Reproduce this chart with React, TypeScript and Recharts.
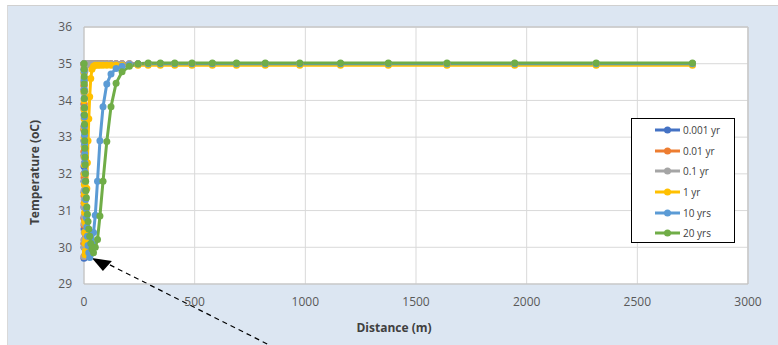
import React from "react";
import {
  LineChart,
  Line,
  XAxis,
  YAxis,
  CartesianGrid,
  Legend,
  ReferenceLine,
} from "recharts";

const seriesNames = ["0.001 yr", "0.01 yr", "0.1 yr", "1 yr", "10 yrs", "20 yrs"];
const seriesColors = ["#4472C4", "#ED7D31", "#A5A5A5", "#FFC000", "#5B9BD5", "#70AD47"];
const plateaus = [35, 35, 35, 34.96, 35, 35.02];

const xTicks = [0, 500, 1000, 1500, 2000, 2500, 3000];
const yTicks = [29, 30, 31, 32, 33, 34, 35, 36];

// shared outer nodes (m), used past the end of each series' dip
const farDistances = [
  0.8, 0.95, 1.1, 1.35, 1.6, 1.9, 2.3, 2.7, 3.2, 3.8, 4.5, 5.4, 6.4, 7.6, 9.1, 10.8,
  12.8, 15.3, 18.2, 21.6, 25.7, 30.5, 36, 43, 51, 61, 72, 86, 103, 122, 145, 172, 205,
  244, 290, 345, 410, 488, 580, 689, 819, 975, 1159, 1375, 1640, 1946, 2314, 2749,
];

const dist0001 = [0, 0.001, 0.002, 0.003, 0.004, 0.005, 0.006, 0.008, 0.01, 0.012, 0.015, 0.02, 0.025, 0.03, 0.04, 0.05, 0.06, 0.08, 0.1];
const temp0001 = [35.0, 34.3, 33.6, 32.9, 32.2, 31.5, 30.8, 30.1, 29.7, 30.0, 30.5, 31.1, 31.8, 32.5, 33.2, 33.9, 34.5, 34.85, 35.0];

const dist001 = [0, 0.005, 0.01, 0.015, 0.02, 0.03, 0.04, 0.05, 0.06, 0.08, 0.1, 0.12, 0.15, 0.2, 0.25, 0.3, 0.4, 0.5, 0.6, 0.8, 0.95, 1.1];
const temp001 = [35.0, 34.4, 33.8, 33.2, 32.6, 32.0, 31.4, 30.8, 30.2, 29.75, 30.1, 30.6, 31.2, 31.9, 32.6, 33.3, 33.9, 34.4, 34.75, 34.92, 34.98, 35.0];

const dist01 = [0, 0.02, 0.04, 0.06, 0.08, 0.1, 0.12, 0.15, 0.2, 0.25, 0.3, 0.4, 0.5, 0.6, 0.8, 0.95, 1.1, 1.35, 1.6, 1.9, 2.3, 2.7, 3.2, 3.8, 4.5, 5.4, 6.4, 7.6, 9.1];
const temp01 = [35.0, 34.6, 34.2, 33.75, 33.3, 32.9, 32.45, 32.0, 31.55, 31.1, 30.65, 30.2, 29.75, 30.0, 30.4, 30.85, 31.3, 31.8, 32.3, 32.8, 33.3, 33.8, 34.25, 34.6, 34.8, 34.92, 34.97, 34.99, 35.0];

const dist1 = [0, 0.1, 0.15, 0.2, 0.25, 0.3, 0.4, 0.5, 0.6, 0.8, 0.95, 1.1, 1.35, 1.6, 1.9, 2.3, 2.7, 3.2, 3.8, 4.5, 5.4, 6.4, 7.6, 9.1, 10.8, 12.8, 15.3, 18.2, 21.6, 25.7, 30.5, 36, 43, 51, 61];
const temp1 = [35.0, 34.75, 34.5, 34.25, 34.0, 33.75, 33.5, 33.25, 33.0, 32.75, 32.5, 32.25, 32.0, 31.7, 31.45, 31.2, 30.95, 30.7, 30.4, 30.1, 29.8, 29.9, 30.2, 30.6, 31.05, 31.6, 32.3, 32.9, 33.5, 34.1, 34.6, 34.85, 34.93, 34.96, 34.96];

const dist10 = [0, 0.5, 0.8, 0.95, 1.1, 1.35, 1.6, 1.9, 2.3, 2.7, 3.2, 3.8, 4.5, 5.4, 6.4, 7.6, 9.1, 10.8, 12.8, 15.3, 18.2, 21.6, 25.7, 30.5, 36, 43, 51, 61, 72, 86, 103, 122, 145, 172, 205, 244];
const temp10 = [35.0, 34.8, 34.55, 34.3, 34.05, 33.8, 33.55, 33.3, 33.05, 32.8, 32.55, 32.3, 32.05, 31.8, 31.55, 31.3, 31.05, 30.8, 30.55, 30.3, 30.05, 29.85, 29.72, 29.85, 30.1, 30.4, 30.87, 31.8, 32.9, 33.83, 34.45, 34.72, 34.87, 34.93, 34.97, 34.99];

const dist20 = [0, 0.5, 0.8, 0.95, 1.1, 1.35, 1.6, 1.9, 2.3, 2.7, 3.2, 3.8, 4.5, 5.4, 6.4, 7.6, 9.1, 10.8, 12.8, 15.3, 18.2, 21.6, 25.7, 30.5, 36, 43, 51, 61, 72, 86, 103, 122, 145, 172, 205, 244];
const temp20 = [35.0, 34.85, 34.65, 34.45, 34.25, 34.05, 33.8, 33.6, 33.35, 33.15, 32.9, 32.7, 32.45, 32.25, 32.0, 31.8, 31.55, 31.35, 31.1, 30.9, 30.7, 30.5, 30.3, 30.1, 29.95, 29.85, 30.0, 30.21, 30.85, 31.8, 32.88, 33.83, 34.47, 34.78, 34.93, 35.0];

// dashed arrow annotation (data units)
const arrowFrom = { x: 117, y: 29.52 };
const arrowTo = { x: 850, y: 27.3 };

const allDist = [dist0001, dist001, dist01, dist1, dist10, dist20];
const allTemp = [temp0001, temp001, temp01, temp1, temp10, temp20];

function buildSeries(dist: number[], temp: number[], plateau: number) {
  const head = dist.map((x, i) => ({ x, t: temp[i] }));
  const last = dist[dist.length - 1];
  const tail = farDistances.filter((d) => d > last).map((x) => ({ x, t: plateau }));
  return [...head, ...tail];
}

const seriesData = allDist.map((d, i) => buildSeries(d, allTemp[i], plateaus[i]));

const FONT = "'Open Sans', 'Noto Sans', sans-serif";

const ArrowShape = (p: any) => {
  const { x1, y1, x2, y2 } = p;
  return (
    <g>
      <line x1={x1} y1={y1} x2={x2} y2={y2} stroke="#000" strokeWidth={1.2} strokeDasharray="5 4" />
      <polygon
        points={`${x1 - 18},${y1 - 7} ${x1 + 2},${y1 - 4} ${x1 - 7},${y1 + 6}`}
        fill="#000"
      />
    </g>
  );
};

const renderLegend = () => (
  <div
    style={{
      width: 104,
      height: 125,
      boxSizing: "border-box",
      border: "1px solid #000",
      background: "#fff",
      paddingTop: 1,
    }}
  >
    {seriesNames.map((n, i) => (
      <div key={n} style={{ display: "flex", alignItems: "center", height: 20.6 }}>
        <svg width={50} height={10} style={{ display: "block" }}>
          <line x1={23} x2={48} y1={5} y2={5} stroke={seriesColors[i]} strokeWidth={3} />
          <circle cx={35.5} cy={5} r={3.5} fill={seriesColors[i]} />
        </svg>
        <span style={{ fontSize: 10, color: "#404040", fontFamily: FONT, marginLeft: 1 }}>{n}</span>
      </div>
    ))}
  </div>
);

export default function App() {
  return (
    <div
      style={{
        position: "absolute",
        left: 0,
        top: 0,
        width: 778,
        height: 345,
        background: "#fff",
        overflow: "hidden",
        fontFamily: FONT,
      }}
    >
      <div
        style={{
          position: "absolute",
          left: 7,
          top: 5,
          right: 0,
          bottom: 0,
          background: "#dce6f2",
          borderTop: "1px solid #d0d0d0",
          borderLeft: "1px solid #d9d9d9",
        }}
      />
      <div style={{ position: "absolute", left: 0, top: 0 }}>
        <LineChart width={778} height={345} margin={{ top: 27, right: 30, bottom: 0, left: 0 }}>
          <CartesianGrid stroke="#d9d9d9" fill="#ffffff" />
          <XAxis
            type="number"
            dataKey="x"
            domain={[0, 3000]}
            ticks={xTicks}
            height={61}
            tickLine={false}
            tickSize={6}
            tickMargin={7}
            axisLine={{ stroke: "#bfbfbf" }}
            tick={{ fill: "#595959", fontSize: 12, fontFamily: FONT }}
            label={(props: any) => {
              const vb = props.viewBox;
              return (
                <text
                  x={vb.x + vb.width / 2 - 22}
                  y={vb.y + 43}
                  textAnchor="middle"
                  dominantBaseline="central"
                  fontSize={12}
                  fontWeight="bold"
                  fill="#404040"
                  fontFamily={FONT}
                >
                  Distance (m)
                </text>
              );
            }}
          />
          <YAxis
            type="number"
            dataKey="t"
            domain={[29, 36]}
            ticks={yTicks}
            width={84}
            tickLine={false}
            tickSize={6}
            tickMargin={6}
            axisLine={{ stroke: "#bfbfbf" }}
            tick={{ fill: "#595959", fontSize: 12, fontFamily: FONT }}
            label={(props: any) => {
              const vb = props.viewBox;
              const cx = vb.x + 34;
              const cy = vb.y + vb.height / 2 + 17;
              return (
                <text
                  x={cx}
                  y={cy}
                  transform={`rotate(-90 ${cx} ${cy})`}
                  textAnchor="middle"
                  dominantBaseline="central"
                  fontSize={12}
                  fontWeight="bold"
                  fill="#404040"
                  fontFamily={FONT}
                >
                  Temperature (oC)
                </text>
              );
            }}
          />
          <ReferenceLine y={36} stroke="#c8c8c8" strokeWidth={1.5} ifOverflow="visible" />
          <ReferenceLine x={3000} stroke="#c8c8c8" strokeWidth={1.5} ifOverflow="visible" />
          {seriesData.map((data, i) => (
            <Line
              key={seriesNames[i]}
              data={data}
              dataKey="t"
              name={seriesNames[i]}
              type="linear"
              stroke={seriesColors[i]}
              strokeWidth={3}
              dot={{ r: 3.5, fill: seriesColors[i], stroke: seriesColors[i], strokeWidth: 0 }}
              activeDot={false}
              isAnimationActive={false}
            />
          ))}
          <ReferenceLine
            segment={[arrowFrom, arrowTo]}
            ifOverflow="visible"
            shape={ArrowShape}
          />
          <Legend
            layout="vertical"
            align="center"
            verticalAlign="middle"
            content={renderLegend}
            wrapperStyle={{ left: 631, top: 118, width: 104, height: 125 }}
          />
        </LineChart>
      </div>
    </div>
  );
}
